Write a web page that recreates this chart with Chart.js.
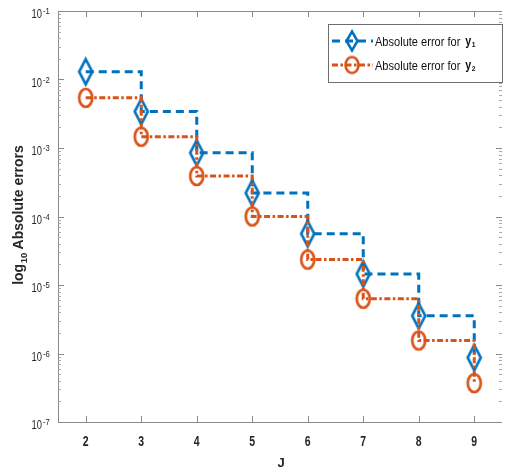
<!DOCTYPE html>
<html>
<head>
<meta charset="utf-8">
<script src="https://cdn.jsdelivr.net/npm/chart.js@4"></script>
<style>
  html, body { margin: 0; padding: 0; background: #fff; }
  canvas { display: block; }
</style>
</head>
<body>
<canvas id="errChart" width="513" height="473"></canvas>
<script>
// stair data: absolute errors for y1 and y2 against J
const jValues = [2, 3, 4, 5, 6, 7, 8, 9];
const errY1 = [1.3e-2, 3.4e-3, 8.5e-4, 2.2e-4, 5.6e-5, 1.45e-5, 3.55e-6, 8.7e-7];
const errY2 = [5.4e-3, 1.46e-3, 3.9e-4, 1.0e-4, 2.35e-5, 6.3e-6, 1.55e-6, 3.7e-7];
const xTicks = [2, 3, 4, 5, 6, 7, 8, 9];
const yTickExps = [-7, -6, -5, -4, -3, -2, -1];
const seriesNames = ['Absolute error for', 'Absolute error for'];
const seriesSubs = ['1', '2'];

const BLUE = '#0072BD';
const ORANGE = '#D95319';
const AXIS = '#8a8a8a';
const TEXT = '#262626';

// open markers drawn onto small canvases so they can be stretched
function diamondMarker(color, w, h, lw) {
  const c = document.createElement('canvas');
  c.width = Math.ceil(w + lw * 2);
  c.height = Math.ceil(h + lw * 2);
  const g = c.getContext('2d');
  const cx = c.width / 2, cy = c.height / 2;
  g.strokeStyle = color;
  g.lineWidth = lw;
  g.beginPath();
  g.moveTo(cx, cy - h / 2);
  g.lineTo(cx + w / 2, cy);
  g.lineTo(cx, cy + h / 2);
  g.lineTo(cx - w / 2, cy);
  g.closePath();
  g.stroke();
  return c;
}

function ellipseMarker(color, w, h, lw) {
  const c = document.createElement('canvas');
  c.width = Math.ceil(w + lw * 2);
  c.height = Math.ceil(h + lw * 2);
  const g = c.getContext('2d');
  g.strokeStyle = color;
  g.lineWidth = lw;
  g.beginPath();
  g.ellipse(c.width / 2, c.height / 2, w / 2, h / 2, 0, 0, Math.PI * 2);
  g.stroke();
  return c;
}

const markers = [diamondMarker(BLUE, 13, 25, 2.7), ellipseMarker(ORANGE, 13, 18, 2.7)];
const legendMarkers = [diamondMarker(BLUE, 11, 19, 2.5), ellipseMarker(ORANGE, 13, 16, 2.5)];
const dashes = [[8, 5], [6, 2.5, 2.5, 2.5]];
const colors = [BLUE, ORANGE];

function squeezedText(ctx, str, x, y, font, align, sx) {
  ctx.save();
  ctx.font = font;
  ctx.translate(x, y);
  ctx.scale(sx, 1);
  ctx.textAlign = align;
  ctx.fillText(str, 0, 0);
  const w = ctx.measureText(str).width * sx;
  ctx.restore();
  return w;
}

const axesDeco = {
  id: 'axesDeco',
  beforeDatasetsDraw(chart) {
    const ctx = chart.ctx;
    const a = chart.chartArea;
    const xs = chart.scales.x, ys = chart.scales.y;
    ctx.save();
    ctx.strokeStyle = AXIS;
    ctx.lineWidth = 1;
    ctx.beginPath();
    ctx.moveTo(a.left + 0.5, a.top + 0.5);
    ctx.lineTo(a.right, a.top + 0.5);
    ctx.moveTo(a.left + 0.5, a.top);
    ctx.lineTo(a.left + 0.5, a.bottom + 0.5);
    ctx.lineTo(a.right, a.bottom + 0.5);
    // x ticks, inward, top and bottom
    xTicks.forEach(j => {
      const px = Math.round(xs.getPixelForValue(j)) + 0.5;
      ctx.moveTo(px, a.bottom);
      ctx.lineTo(px, a.bottom - 6);
      ctx.moveTo(px, a.top);
      ctx.lineTo(px, a.top + 6);
    });
    // y decades, inward, left and right
    yTickExps.forEach(e => {
      const py = Math.round(ys.getPixelForValue(Math.pow(10, e))) + 0.5;
      ctx.moveTo(a.left, py);
      ctx.lineTo(a.left + 6, py);
      ctx.moveTo(a.right, py);
      ctx.lineTo(a.right - 6, py);
    });
    ctx.stroke();
    ctx.strokeStyle = '#aaaaaa';
    ctx.beginPath();
    yTickExps.slice(0, -1).forEach(e => {
      for (let m = 2; m <= 9; m++) {
        const py = Math.round(ys.getPixelForValue(m * Math.pow(10, e))) + 0.5;
        ctx.moveTo(a.left, py);
        ctx.lineTo(a.left + 3, py);
        ctx.moveTo(a.right, py);
        ctx.lineTo(a.right - 3, py);
      }
    });
    ctx.stroke();
    ctx.restore();
  },
  afterDraw(chart) {
    const ctx = chart.ctx;
    const a = chart.chartArea;
    const xs = chart.scales.x, ys = chart.scales.y;
    const family = '"Liberation Sans", Arial, sans-serif';
    ctx.save();
    ctx.fillStyle = TEXT;
    ctx.textBaseline = 'alphabetic';

    // x tick labels
    xTicks.forEach(j => {
      squeezedText(ctx, String(j), xs.getPixelForValue(j), 446, 'bold 15px ' + family, 'center', 0.7);
    });

    // y tick labels as 10 with a raised exponent
    yTickExps.forEach(e => {
      const py = ys.getPixelForValue(Math.pow(10, e));
      squeezedText(ctx, '10', 42, py + 7, '13px ' + family, 'right', 0.72);
      squeezedText(ctx, '-' + Math.abs(e), 43, py + 3, '9px ' + family, 'left', 0.85);
    });

    // x title
    ctx.font = 'bold 13px ' + family;
    ctx.textAlign = 'center';
    ctx.fillText('J', (a.left + a.right) / 2 + 1, 467);

    // y title with subscript, rotated
    ctx.save();
    ctx.translate(23, 215);
    ctx.rotate(-Math.PI / 2);
    const fBig = 'bold 14px ' + family, fSub = 'bold 9.5px ' + family;
    ctx.font = fBig;
    const wLog = ctx.measureText('log').width;
    const wRest = ctx.measureText(' Absolute errors').width;
    ctx.font = fSub;
    const wSub = ctx.measureText('10').width;
    let tx = -(wLog + wSub + wRest) / 2;
    ctx.textAlign = 'left';
    ctx.font = fBig;
    ctx.fillText('log', tx, 0);
    tx += wLog;
    ctx.font = fSub;
    ctx.fillText('10', tx + 0.5, 4);
    tx += wSub;
    ctx.font = fBig;
    ctx.fillText(' Absolute errors', tx, 0);
    ctx.restore();

    // legend box
    ctx.fillStyle = '#ffffff';
    ctx.fillRect(328, 24, 174, 58);
    ctx.strokeStyle = '#6e6e6e';
    ctx.lineWidth = 1;
    ctx.strokeRect(328.5, 24.5, 174, 58);
    const rows = [41, 65];
    rows.forEach((ry, i) => {
      ctx.save();
      ctx.strokeStyle = colors[i];
      ctx.lineWidth = 2.8;
      ctx.setLineDash(dashes[i]);
      ctx.beginPath();
      ctx.moveTo(332, ry);
      ctx.lineTo(373, ry);
      ctx.stroke();
      ctx.restore();
      const mk = legendMarkers[i];
      ctx.drawImage(mk, 352 - mk.width / 2, ry - mk.height / 2);
      ctx.fillStyle = '#111111';
      const w = squeezedText(ctx, seriesNames[i], 375, ry + 4.5, '13px ' + family, 'left', 0.85);
      const yx = 375 + w + 5;
      squeezedText(ctx, 'y', yx, ry + 4, 'bold 12px ' + family, 'left', 0.9);
      squeezedText(ctx, seriesSubs[i], yx + 6.5, ry + 5.5, 'bold 7.5px ' + family, 'left', 0.9);
    });
    ctx.restore();
  }
};

const toPoints = vals => jValues.map((j, i) => ({ x: j, y: vals[i] }));

new Chart(document.getElementById('errChart'), {
  type: 'line',
  data: {
    datasets: [{
      label: seriesNames[0] + ' y' + seriesSubs[0],
      data: toPoints(errY1),
      stepped: 'before',
      borderColor: BLUE,
      borderWidth: 3,
      borderDash: dashes[0],
      pointStyle: markers[0],
      pointRadius: 8,
      fill: false,
      order: 2
    }, {
      label: seriesNames[1] + ' y' + seriesSubs[1],
      data: toPoints(errY2),
      stepped: 'before',
      borderColor: ORANGE,
      borderWidth: 3,
      borderDash: dashes[1],
      pointStyle: markers[1],
      pointRadius: 8,
      fill: false,
      order: 1
    }]
  },
  options: {
    responsive: false,
    animation: false,
    devicePixelRatio: 1,
    layout: { padding: { left: 58, top: 7, right: 0, bottom: 51 } },
    scales: {
      x: { type: 'linear', min: 1.5, max: 9.5, display: false },
      y: { type: 'logarithmic', min: 1e-7, max: 1e-1, display: false }
    },
    plugins: {
      legend: { display: false },
      tooltip: { enabled: false }
    }
  },
  plugins: [axesDeco]
});
</script>
</body>
</html>
